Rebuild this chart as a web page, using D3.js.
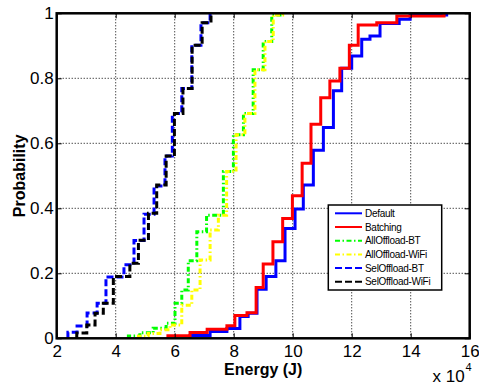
<!DOCTYPE html>
<html>
<head>
<meta charset="utf-8">
<script src="https://cdn.jsdelivr.net/npm/d3@7"></script>
<style>
  body { margin: 0; background: #fff; }
  svg { display: block; font-family: "Liberation Sans", Arial, Helvetica, sans-serif; }
</style>
</head>
<body>
<div class="content-container"></div>
<script>

// empirical CDFs: energy (J) where each step happens, and the level after the step
const defaultEnergy = [65200, 72000, 77700, 82100, 84900, 87900, 91000, 94300, 97400, 100800, 103600, 107000, 110400, 113800, 116600, 120000, 123400, 126200, 129600, 136100, 139800, 152200];
const defaultProb   = [0.009, 0.021, 0.030, 0.067, 0.077, 0.151, 0.190, 0.239, 0.338, 0.398, 0.472, 0.579, 0.649, 0.762, 0.831, 0.869, 0.920, 0.930, 0.969, 0.982, 0.995, 1];

const batchingEnergy = [57700, 65200, 71000, 77700, 80400, 84500, 87600, 90000, 93300, 96600, 99900, 103200, 106200, 109500, 112600, 116000, 119200, 122200, 128500, 135300, 151300];
const batchingProb   = [0.008, 0.018, 0.028, 0.039, 0.070, 0.079, 0.156, 0.229, 0.297, 0.369, 0.439, 0.539, 0.659, 0.740, 0.792, 0.831, 0.902, 0.964, 0.971, 0.992, 1];

const allBtEnergy = [44300, 48200, 52700, 57100, 60100, 62400, 64600, 67500, 70800, 76500, 79900, 83300, 86600, 90000, 92900, 96300];
const allBtProb   = [0.007, 0.017, 0.031, 0.046, 0.108, 0.149, 0.239, 0.328, 0.379, 0.513, 0.626, 0.692, 0.826, 0.913, 0.995, 1];

const allWifiEnergy = [47700, 51000, 55000, 58400, 62400, 65800, 68600, 72000, 74800, 77600, 80800, 83800, 87200, 90600, 93400, 96600];
const allWifiProb   = [0.006, 0.015, 0.026, 0.041, 0.102, 0.149, 0.241, 0.333, 0.379, 0.513, 0.626, 0.692, 0.826, 0.913, 0.995, 1];

const selBtEnergy = [23800, 26900, 30300, 33700, 36700, 42800, 46200, 49600, 53000, 56700, 59200, 62400, 65800, 68900, 72000];
const selBtProb   = [0.019, 0.038, 0.078, 0.108, 0.189, 0.226, 0.301, 0.382, 0.469, 0.561, 0.692, 0.769, 0.902, 0.971, 1];

const selWifiEnergy = [26800, 30200, 33000, 35800, 39200, 44800, 47700, 51100, 53900, 57100, 59900, 62800, 65900, 69300, 72300];
const selWifiProb   = [0.016, 0.041, 0.077, 0.108, 0.190, 0.231, 0.302, 0.385, 0.472, 0.561, 0.692, 0.769, 0.902, 0.971, 1];

const seriesNames = ["Default", "Batching", "AllOffload-BT", "AllOffload-WiFi", "SelOffload-BT", "SelOffload-WiFi"];
const xTicks = [20000, 40000, 60000, 80000, 100000, 120000, 140000, 160000];
const yTicks = [0, 0.2, 0.4, 0.6, 0.8, 1];

const series = [
  {name: seriesNames[0], energy: defaultEnergy,  prob: defaultProb,  color: "#0000ff", dash: null},
  {name: seriesNames[1], energy: batchingEnergy, prob: batchingProb, color: "#ff0000", dash: null},
  {name: seriesNames[2], energy: allBtEnergy,    prob: allBtProb,    color: "#00ff00", dash: "5,2.5,1.5,2.5"},
  {name: seriesNames[3], energy: allWifiEnergy,  prob: allWifiProb,  color: "#ffff00", dash: "5,2.5,1.5,2.5"},
  {name: seriesNames[4], energy: selBtEnergy,    prob: selBtProb,    color: "#0000ff", dash: "7,3"},
  {name: seriesNames[5], energy: selWifiEnergy,  prob: selWifiProb,  color: "#000000", dash: "7,3"}
];

const width = 479;
const height = 387;
const plotLeft = 56.7, plotRight = 469.7, plotTop = 13.3, plotBottom = 338.3;

const xScale = d3.scaleLinear().domain([20000, 160000]).range([plotLeft, plotRight]);
const yScale = d3.scaleLinear().domain([0, 1]).range([plotBottom, plotTop]);

const chart = d3.select(".content-container")
  .append("svg")
  .attr("width", width)
  .attr("height", height);

chart.append("rect")
  .attr("width", width).attr("height", height).attr("fill", "#fff");

// GRID
chart.append("g").selectAll("line")
  .data(xTicks.slice(1, -1))
  .enter().append("line")
  .attr("x1", d => xScale(d)).attr("x2", d => xScale(d))
  .attr("y1", plotTop).attr("y2", plotBottom)
  .attr("stroke", "#000").attr("stroke-width", 1).attr("stroke-dasharray", "1,2");

chart.append("g").selectAll("line")
  .data(yTicks.slice(1, -1))
  .enter().append("line")
  .attr("x1", plotLeft).attr("x2", plotRight)
  .attr("y1", d => yScale(d)).attr("y2", d => yScale(d))
  .attr("stroke", "#000").attr("stroke-width", 1).attr("stroke-dasharray", "1,2");

// CURVES (stairs)
const line = d3.line()
  .x(d => xScale(d[0]))
  .y(d => yScale(d[1]))
  .curve(d3.curveStepAfter);

series.forEach(function(s) {
  const pts = [[s.energy[0], 0]];
  s.energy.forEach((e, i) => pts.push([e, s.prob[i]]));
  chart.append("path")
    .datum(pts)
    .attr("d", line)
    .attr("fill", "none")
    .attr("stroke", s.color)
    .attr("stroke-width", 3)
    .attr("stroke-dasharray", s.dash);
});

// AXES
const fmtX = d => d / 10000;

chart.append("g")
  .attr("transform", "translate(0," + plotBottom + ")")
  .call(d3.axisBottom(xScale).tickValues(xTicks).tickFormat(fmtX).tickSize(-5).tickPadding(7));
chart.append("g")
  .attr("transform", "translate(0," + plotTop + ")")
  .call(d3.axisTop(xScale).tickValues(xTicks).tickFormat("").tickSize(-5));
chart.append("g")
  .attr("transform", "translate(" + plotLeft + ",0)")
  .call(d3.axisLeft(yScale).tickValues(yTicks).tickFormat(d3.format("")).tickSize(-5).tickPadding(3));
chart.append("g")
  .attr("transform", "translate(" + plotRight + ",0)")
  .call(d3.axisRight(yScale).tickValues(yTicks).tickFormat("").tickSize(-5));

chart.selectAll(".domain").remove();
chart.selectAll(".tick line").attr("stroke", "#000").attr("stroke-width", 1);
chart.selectAll(".tick text")
  .attr("fill", "#000")
  .style("font-size", "17px")
  .style("font-family", "'Liberation Sans', Arial, sans-serif");

chart.append("rect")
  .attr("x", plotLeft).attr("y", plotTop)
  .attr("width", plotRight - plotLeft).attr("height", plotBottom - plotTop)
  .attr("fill", "none").attr("stroke", "#000").attr("stroke-width", 2.5);

// LABELS
chart.append("text")
  .attr("x", (plotLeft + plotRight) / 2)
  .attr("y", 375)
  .attr("text-anchor", "middle")
  .style("font-size", "16px")
  .style("font-weight", "bold")
  .text("Energy (J)");

chart.append("text")
  .attr("transform", "translate(25," + ((plotTop + plotBottom) / 2) + ") rotate(-90)")
  .attr("text-anchor", "middle")
  .style("font-size", "16px")
  .style("font-weight", "bold")
  .text("Probability");

chart.append("text")
  .attr("x", 432.5).attr("y", 381.5)
  .style("font-size", "17px")
  .text("x 10");
chart.append("text")
  .attr("x", 465.5).attr("y", 371)
  .style("font-size", "11px")
  .text("4");

// LEGEND
const lx = 328.3, ly = 205;
chart.append("rect")
  .attr("x", lx).attr("y", ly)
  .attr("width", 113.4).attr("height", 85)
  .attr("fill", "#fff").attr("stroke", "#000").attr("stroke-width", 1.5);

const entry = chart.append("g").selectAll("g")
  .data(series)
  .enter().append("g")
  .attr("transform", (d, i) => "translate(0," + (213.3 + i * 13.7) + ")");

entry.append("line")
  .attr("x1", 335).attr("x2", 362)
  .attr("stroke", d => d.color)
  .attr("stroke-width", 2)
  .attr("stroke-dasharray", d => d.dash);

entry.append("text")
  .attr("x", 365)
  .attr("dy", "0.35em")
  .style("font-size", "10px")
  .style("letter-spacing", "-0.3px")
  .text(d => d.name);

</script>
</body>
</html>
